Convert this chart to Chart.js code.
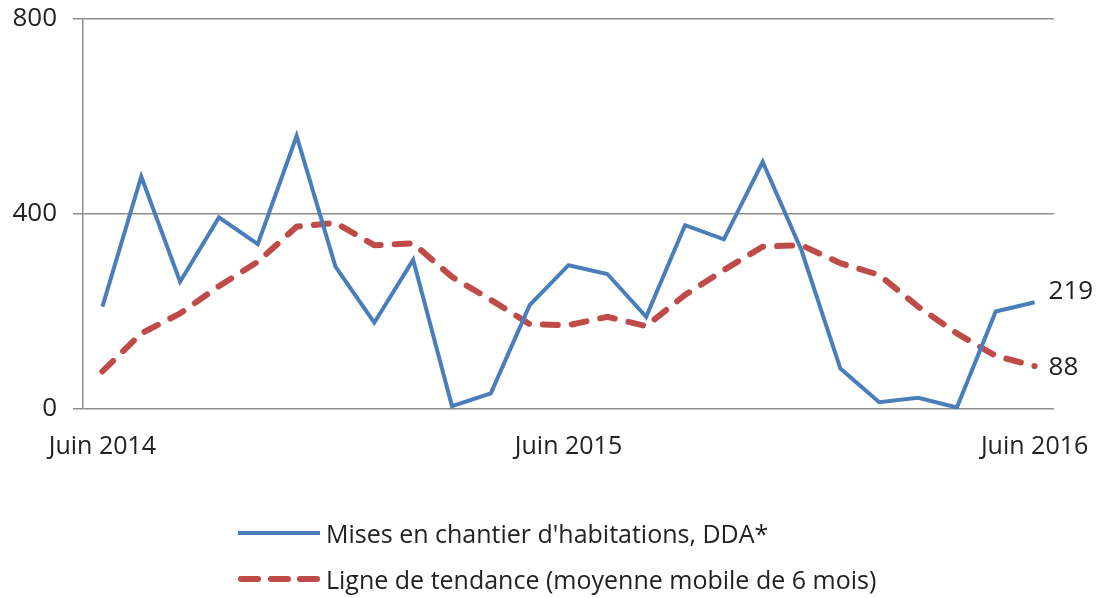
<!DOCTYPE html>
<html>
<head>
<meta charset="utf-8">
<script src="https://cdn.jsdelivr.net/npm/chart.js@4"></script>
<style>
  body { margin: 0; background: #fff; }
  #wrap { position: relative; width: 1101px; height: 598px; }
  #legend {
    position: absolute; left: 238px; top: 510px;
    font-family: "Open Sans", sans-serif; font-size: 25px; color: #222;
  }
  .row { display: flex; align-items: center; height: 46px; }
  .swatch { width: 82px; margin-right: 6px; display: flex; justify-content: space-between; }
  .blue { border-top: 4px solid #4a7ebb; }
  .red span { display: block; width: 23px; height: 6px; border-radius: 3px; background: #be4b48; }
</style>
</head>
<body>
<div id="wrap">
  <canvas id="chart" width="1101" height="598"></canvas>
  <div id="legend">
    <div class="row"><div class="swatch blue"></div>Mises en chantier d'habitations, DDA*</div>
    <div class="row"><div class="swatch red"><span></span><span></span><span></span></div>Ligne de tendance (moyenne mobile de 6 mois)</div>
  </div>
</div>
<script>
const months = [
    "Juin 2014", "Juil. 2014", "Août 2014", "Sept. 2014", "Oct. 2014", "Nov. 2014",
    "Déc. 2014", "Janv. 2015", "Févr. 2015", "Mars 2015", "Avr. 2015", "Mai 2015",
    "Juin 2015", "Juil. 2015", "Août 2015", "Sept. 2015", "Oct. 2015", "Nov. 2015",
    "Déc. 2015", "Janv. 2016", "Févr. 2016", "Mars 2016", "Avr. 2016", "Mai 2016",
    "Juin 2016"
];
const shownLabels = ["Juin 2014", "Juin 2015", "Juin 2016"];
const yTicks = [0, 400, 800];

const starts = [210, 477, 261, 393, 338, 560, 292, 177, 306, 6, 32, 213,
                295, 277, 189, 377, 348, 507, 325, 83, 14, 23, 3, 200, 219];
const trend = [77, 155, 196, 252, 302, 374, 382, 336, 340, 271, 224, 174,
               172, 189, 170, 234, 285, 333, 336, 299, 275, 210, 155, 109, 88];

const FONT = "'Open Sans', sans-serif";

// last value written to the right of each line
const endLabels = {
    id: "endLabels",
    afterDatasetsDraw(chart) {
        const ctx = chart.ctx;
        const shifts = [-11, 1];
        ctx.save();
        ctx.font = "26px " + FONT;
        ctx.fillStyle = "#222";
        ctx.textBaseline = "middle";
        chart.data.datasets.forEach((ds, i) => {
            const pts = chart.getDatasetMeta(i).data;
            const last = pts[pts.length - 1];
            ctx.fillText(ds.data[ds.data.length - 1], last.x + 14, last.y + shifts[i]);
        });
        ctx.restore();
    }
};

new Chart(document.getElementById("chart"), {
    type: "line",
    data: {
        labels: months,
        datasets: [{
            label: "Mises en chantier d'habitations, DDA*",
            data: starts,
            borderColor: "#4a7ebb",
            borderWidth: 4,
            pointRadius: 0,
            tension: 0
        }, {
            label: "Ligne de tendance (moyenne mobile de 6 mois)",
            data: trend,
            borderColor: "#be4b48",
            borderWidth: 6,
            borderDash: [15, 14],
            borderCapStyle: "round",
            pointRadius: 0,
            tension: 0
        }]
    },
    plugins: [endLabels],
    options: {
        responsive: false,
        animation: false,
        layout: { padding: { left: 12, right: 47, top: 19, bottom: 129 } },
        plugins: { legend: { display: false }, tooltip: { enabled: false } },
        scales: {
            x: {
                offset: true,
                afterFit: s => { s.height = 60; s.paddingLeft = 0; s.paddingRight = 0; },
                grid: { display: false, drawTicks: false },
                border: { display: false },
                ticks: {
                    autoSkip: false,
                    maxRotation: 0,
                    padding: 23,
                    color: "#222",
                    font: { family: FONT, size: 25 },
                    callback: function (v, i) {
                        const lab = this.getLabelForValue(v);
                        return shownLabels.includes(lab) ? lab : "";
                    }
                }
            },
            y: {
                min: 0,
                max: 800,
                afterBuildTicks: s => { s.ticks = yTicks.map(v => ({ value: v })); },
                afterFit: s => { s.width = 71; s.paddingTop = 0; s.paddingBottom = 0; },
                grid: { color: "#8c8c8c", lineWidth: 1.5, tickLength: 10 },
                border: { color: "#8c8c8c", width: 1.5 },
                ticks: {
                    padding: 16,
                    color: "#222",
                    font: { family: FONT, size: 26 }
                }
            }
        }
    }
});
</script>
</body>
</html>
